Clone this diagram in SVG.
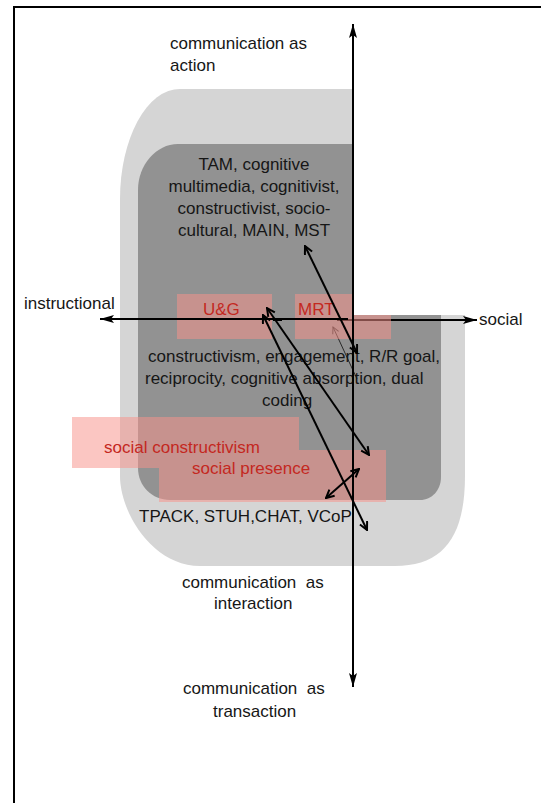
<svg xmlns="http://www.w3.org/2000/svg" width="541" height="803" viewBox="0 0 541 803">
<style>
  text { font-family: "Liberation Sans", Arial, sans-serif; font-size: 17px; fill: #161616; }
  .red { fill: #c4281f; }
  .pink { fill: #f8928a; fill-opacity: 0.52; }
  .ax { stroke: #000; stroke-width: 2; fill: none; }
  .ln { stroke: #000; stroke-width: 2; fill: none; marker-start: url(#v); marker-end: url(#v); }
  .thin { stroke: #2a2a2a; stroke-width: 1; fill: none; }
</style>
<defs>
  <marker id="tri" viewBox="0 0 14 8" refX="14" refY="4" markerWidth="14" markerHeight="8" markerUnits="userSpaceOnUse" orient="auto-start-reverse">
    <path d="M0,0 L14,4 L0,8 L3,4 z" fill="#000"/>
  </marker>
  <marker id="v" viewBox="0 0 10 10" refX="9" refY="5" markerWidth="10" markerHeight="10" markerUnits="userSpaceOnUse" orient="auto-start-reverse">
    <path d="M1,1 L9,5 L1,9" fill="none" stroke="#000" stroke-width="2"/>
  </marker>
  <marker id="vt" viewBox="0 0 10 10" refX="9" refY="5" markerWidth="8" markerHeight="8" markerUnits="userSpaceOnUse" orient="auto-start-reverse">
    <path d="M1,1 L9,5 L1,9" fill="none" stroke="#2a2a2a" stroke-width="1.2"/>
  </marker>
</defs>

<rect id="frame" x="14" y="7" width="540" height="810" fill="#fff" stroke="#000" stroke-width="2"/>

<g id="region-outer">
  <path d="M120,199 A60,110 0 0 1 180,89 L465,89 L465,476 C465,537 443,566 395,566 L200,566 C152,566 120,512 120,476 Z" fill="#d5d5d5"/>
</g>
<g id="region-inner">
  <path d="M138,190 C138,165 156,144 178,144 L441,144 L441,477 C441,490 432,500 420,500 L170,500 C152,500 138,486 138,468 Z" fill="#929292"/>
</g>

<g id="connectors-back">
  <line class="ax" x1="337" y1="320" x2="477" y2="320" marker-end="url(#tri)"/>
  <line class="thin" x1="333" y1="327" x2="357" y2="379" marker-start="url(#vt)"/>
</g>

<g id="node-ug">
  <rect class="pink" x="177" y="294" width="95" height="45"/>
  <text class="red" x="203" y="315">U&amp;G</text>
</g>
<g id="node-mrt">
  <rect class="pink" x="295" y="294" width="96" height="45"/>
  <text class="red" x="298" y="315">MRT</text>
</g>
<g id="node-social-constructivism">
  <rect class="pink" x="72" y="417" width="227" height="51"/>
  <text class="red" x="104" y="453">social constructivism</text>
</g>
<g id="node-social-presence">
  <path class="pink" d="M159,468 L299,468 L299,450 L386,450 L386,502 L159,502 Z"/>
  <text class="red" x="192" y="474">social presence</text>
</g>

<rect id="quadrant-mask" x="354" y="20" width="190" height="295" fill="#fff"/>

<g id="node-action">
  <text x="170" y="49">communication as</text>
  <text x="170" y="71">action</text>
</g>
<g id="node-tam">
  <text x="254" y="170" text-anchor="middle">TAM, cognitive</text>
  <text x="254" y="192" text-anchor="middle">multimedia, cognitivist,</text>
  <text x="254" y="214" text-anchor="middle">constructivist, socio-</text>
  <text x="254" y="236" text-anchor="middle">cultural, MAIN, MST</text>
</g>
<g id="node-instructional">
  <text x="24" y="309">instructional</text>
</g>
<g id="node-social">
  <text x="479" y="325">social</text>
</g>
<g id="node-constructivism">
  <text x="148" y="362">constructivism, engagement, R/R goal,</text>
  <text x="145" y="384">reciprocity, cognitive absorption, dual</text>
  <text x="262" y="406">coding</text>
</g>
<g id="node-tpack">
  <text x="139" y="522">TPACK, STUH,CHAT, VCoP</text>
</g>
<g id="node-interaction">
  <text x="182" y="588" xml:space="preserve">communication  as</text>
  <text x="214" y="609">interaction</text>
</g>
<g id="node-transaction">
  <text x="183" y="694" xml:space="preserve">communication  as</text>
  <text x="213" y="717">transaction</text>
</g>

<g id="connectors">
  <line class="ax" x1="353" y1="24" x2="353" y2="687" marker-start="url(#tri)" marker-end="url(#tri)"/>
  <line class="ax" x1="100" y1="319" x2="348" y2="319" marker-start="url(#tri)"/>
  <rect x="273" y="318" width="9" height="3" fill="#000"/>
  <line class="ln" x1="305" y1="246" x2="357" y2="353"/>
  <line class="ln" x1="267" y1="308" x2="369" y2="455"/>
  <line class="ln" x1="263" y1="315" x2="367" y2="530"/>
  <line class="ln" x1="326" y1="498" x2="359" y2="469"/>
</g>
</svg>
